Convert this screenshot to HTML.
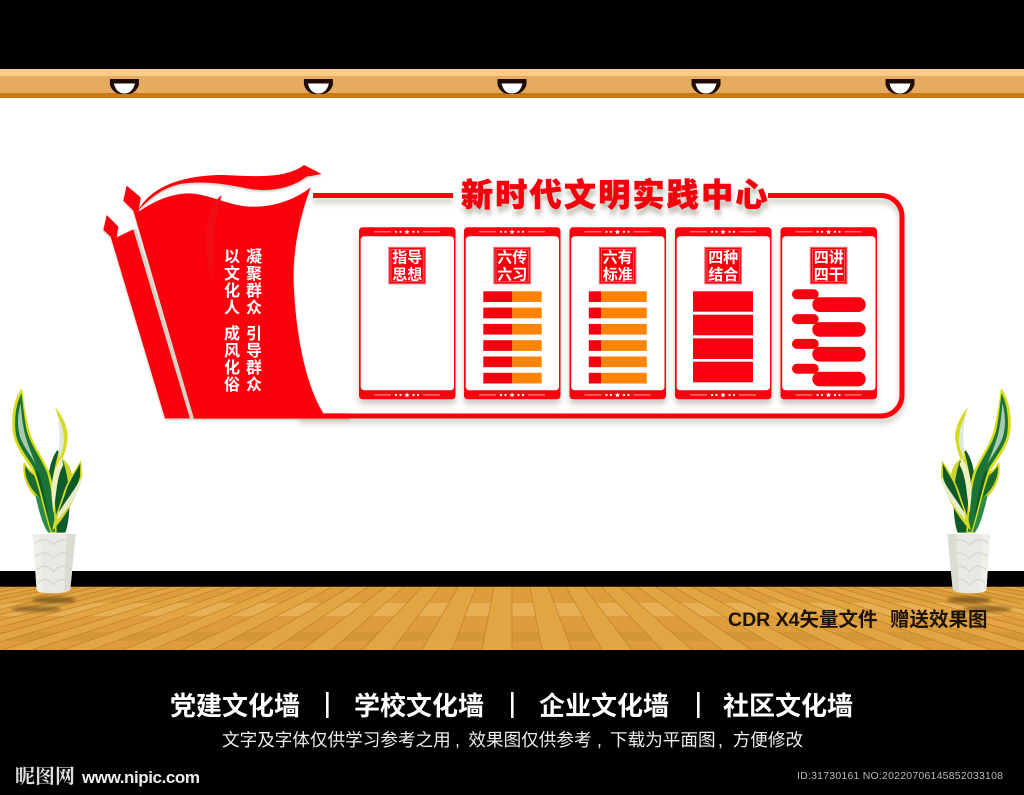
<!DOCTYPE html>
<html lang="zh"><head><meta charset="utf-8"><title>新时代文明实践中心</title>
<style>
html,body{margin:0;padding:0;background:#000;width:1024px;height:795px;overflow:hidden}
svg{display:block}
text{font-family:"Liberation Sans","Noto Sans CJK SC",sans-serif}
</style></head><body>
<svg xmlns="http://www.w3.org/2000/svg" width="1024" height="795" viewBox="0 0 1024 795">
<defs>
<filter id="sh" x="-10%" y="-10%" width="120%" height="125%"><feDropShadow dx="0" dy="5" stdDeviation="3" flood-color="#5a5030" flood-opacity=".3"/></filter>
<filter id="sh2" x="-10%" y="-30%" width="120%" height="170%"><feDropShadow dx="1" dy="6" stdDeviation="2.5" flood-color="#5a5030" flood-opacity=".35"/></filter>
<filter id="bl" x="-30%" y="-80%" width="160%" height="260%"><feGaussianBlur stdDeviation="1.6"/></filter>
<clipPath id="floor"><rect x="0" y="587" width="1024" height="63"/></clipPath>
<clipPath id="ev"><path d="M8 587L26 587L-298 650L-328 650ZM44 587L62 587L-238 650L-268 650ZM80 587L98 587L-178 650L-208 650ZM116 587L134 587L-118 650L-148 650ZM152 587L170 587L-58 650L-88 650ZM188 587L206 587L2 650L-28 650ZM224 587L242 587L62 650L32 650ZM260 587L278 587L122 650L92 650ZM296 587L314 587L182 650L152 650ZM332 587L350 587L242 650L212 650ZM368 587L386 587L302 650L272 650ZM404 587L422 587L362 650L332 650ZM440 587L458 587L422 650L392 650ZM476 587L494 587L482 650L452 650ZM512 587L530 587L542 650L512 650ZM548 587L566 587L602 650L572 650ZM584 587L602 587L662 650L632 650ZM620 587L638 587L722 650L692 650ZM656 587L674 587L782 650L752 650ZM692 587L710 587L842 650L812 650ZM728 587L746 587L902 650L872 650ZM764 587L782 587L962 650L932 650ZM800 587L818 587L1022 650L992 650ZM836 587L854 587L1082 650L1052 650ZM872 587L890 587L1142 650L1112 650ZM908 587L926 587L1202 650L1172 650ZM944 587L962 587L1262 650L1232 650ZM980 587L998 587L1322 650L1292 650ZM1016 587L1034 587L1382 650L1352 650Z"/></clipPath>
<g id="lamp"><path d="M-14.5 79H14.5V85Q11 94 3 94H-3Q-11 94-14.5 85Z" fill="#1e0c04"/><path d="M-10.5 83.5H10.5Q8 93.5 0 93.5Q-8 93.5-10.5 83.5Z" fill="#fff"/></g>
<g id="deco"><rect x="15" y="-.5" width="17" height="1" fill="#f7a0a0"/><rect x="64" y="-.5" width="17" height="1" fill="#f7a0a0"/><g fill="#fff"><circle cx="37" r="1.1"/><circle cx="41.5" r="1.1"/><circle cx="54.5" r="1.1"/><circle cx="59" r="1.1"/><polygon points="48,-2.6 48.8,-.8 50.6,-.7 49.2,.5 49.6,2.3 48,1.3 46.4,2.3 46.8,.5 45.4,-.7 47.2,-.8"/></g></g>
<g id="card"><rect width="96.5" height="172" rx="3.5" fill="#fb0010"/><rect x="1.7" y="9" width="93.3" height="154" rx="3.5" fill="#fff"/><use href="#deco" y="4.5"/><use href="#deco" y="167.7"/><rect x="29.3" y="19.5" width="37.6" height="37.5" fill="#f0606a"/><rect x="30.5" y="20.7" width="35.2" height="35.1" fill="#f40010"/><rect x="32" y="22.2" width="32.2" height="32.1" fill="none" stroke="#f8a0a5" stroke-width=".5"/></g>
<g id="plant">
<ellipse cx="54" cy="600" rx="22" ry="3.5" fill="#6b4c12" opacity=".7" filter="url(#bl)"/>
<ellipse cx="36" cy="609" rx="25" ry="3" fill="#6b4c12" opacity=".65" filter="url(#bl)"/>
<g transform="scale(.3333) translate(0 1140)">
<path d="M72 245C62 290 85 338 125 368L145 300C115 290 85 270 72 245Z" fill="#d8d41e"/>
<path d="M76 258C72 290 90 328 125 358L140 305C112 295 88 280 76 258Z" fill="#1a6a2c"/>
<path d="M190 238C218 262 222 295 212 330L180 450L150 330Z" fill="#c9d52a"/>
<path d="M172 210C150 240 135 300 150 380L160 458H196C218 400 208 280 185 235Z" fill="#0f5c28"/>
<path d="M106 345C118 400 130 440 145 458H170L150 370Z" fill="#2c8a4a"/>
<path d="M66 25C44 50 30 110 40 165C48 205 78 240 96 270C118 320 132 400 152 458H170C168 380 160 310 148 275C125 225 100 195 88 150C78 110 70 60 66 25Z" fill="#d8dc18"/>
<path d="M65 40C50 65 40 115 48 165C55 200 85 235 102 265C122 320 136 395 155 455H165C163 380 152 310 140 275C118 225 92 195 80 150C72 110 68 70 65 40Z" fill="#1b7436"/>
<path d="M62 70C54 100 50 130 60 170C70 200 92 225 108 255C92 215 78 180 72 150C66 120 64 95 62 70Z" fill="#a9c9b0"/>
<path d="M105 270C118 310 130 360 145 410C138 360 128 310 115 275Z" fill="#0e5a26"/>
<path d="M165 82C190 110 208 150 202 185C198 215 186 240 176 270L155 345C155 290 170 240 178 205C184 165 178 115 165 82Z" fill="#d7d820"/>
<path d="M170 100C186 130 196 165 190 200L178 240C176 200 184 150 170 100Z" fill="#dfe8e0"/>
<path d="M185 235C165 255 152 300 155 350L160 400C170 340 170 290 190 255Z" fill="#eef0c0"/>
<path d="M243 240C225 270 205 295 190 340C175 390 160 420 157 452C185 425 232 355 247 290Z" fill="#d4d828"/>
<path d="M241 250C226 280 208 300 196 340C186 370 180 385 176 395C205 365 232 325 240 290Z" fill="#0e5a26"/>
<path d="M244 292C225 330 195 365 175 400L172 420C205 385 235 345 247 295Z" fill="#e6eccc"/>
<path d="M98 462H227L211 628Q205 639 162 640Q116 640 110 630Z" fill="#e9e8e2"/>
<path d="M98 462H120L128 638Q115 637 110 630Z" fill="#f0efea"/>
<path d="M200 462H227L211 628Q207 635 192 638Z" fill="#dddcd4"/>
<path d="M105 490Q135 465 160 495Q190 465 220 490M108 530Q135 505 160 535Q190 505 217 530M111 570Q135 545 160 575Q188 545 214 570M114 610Q135 585 160 615Q186 585 211 610" fill="none" stroke="#d8d7cf" stroke-width="4"/>
</g></g>
</defs>

<rect width="1024" height="795" fill="#000"/>
<rect y="98" width="1024" height="473" fill="#fff"/>
<rect y="69" width="1024" height="7" fill="#fdcb85"/>
<rect y="76" width="1024" height="18" fill="#e5ab60"/>
<rect y="93" width="1024" height="5" fill="#c97a14"/>
<use href="#lamp" x="124.4"/><use href="#lamp" x="318.4"/><use href="#lamp" x="512"/><use href="#lamp" x="706"/><use href="#lamp" x="900"/>

<rect y="587" width="1024" height="63" fill="#e2a541"/>
<g clip-path="url(#floor)">
<g clip-path="url(#ev)">
<rect y="587" width="1024" height="63" fill="#dc9d3a"/>
<rect y="603" width="1024" height="13" fill="#e8b055"/>
<rect y="632" width="1024" height="9" fill="#d59736"/>
</g>
<path d="M8 587L-328 650M26 587L-298 650M44 587L-268 650M62 587L-238 650M80 587L-208 650M98 587L-178 650M116 587L-148 650M134 587L-118 650M152 587L-88 650M170 587L-58 650M188 587L-28 650M206 587L2 650M224 587L32 650M242 587L62 650M260 587L92 650M278 587L122 650M296 587L152 650M314 587L182 650M332 587L212 650M350 587L242 650M368 587L272 650M386 587L302 650M404 587L332 650M422 587L362 650M440 587L392 650M458 587L422 650M476 587L452 650M494 587L482 650M512 587L512 650M530 587L542 650M548 587L572 650M566 587L602 650M584 587L632 650M602 587L662 650M620 587L692 650M638 587L722 650M656 587L752 650M674 587L782 650M692 587L812 650M710 587L842 650M728 587L872 650M746 587L902 650M764 587L932 650M782 587L962 650M800 587L992 650M818 587L1022 650M836 587L1052 650M854 587L1082 650M872 587L1112 650M890 587L1142 650M908 587L1172 650M926 587L1202 650M944 587L1232 650M962 587L1262 650M980 587L1292 650M998 587L1322 650M1016 587L1352 650" stroke="#a56d1e" stroke-width=".8" fill="none" opacity=".55"/>
</g>
<rect y="586" width="1024" height="1" fill="#3a2a10"/>

<g filter="url(#sh)">
<path d="M768 195.5H881a21 21 0 0 1 21 21V395a21 21 0 0 1-21 21H300" fill="none" stroke="#fb0010" stroke-width="5"/>
<path d="M313 195.5H453" stroke="#fb0010" stroke-width="5" fill="none"/>
</g>

<g filter="url(#sh)" transform="translate(90 160) scale(.33333)">
<path d="M50 165L85 200L80 232L130 208L300 775H225L62 230L40 210Z" fill="#fb0010"/>
<path d="M130 208L138 205L313 775H300Z" fill="#d8d3c6"/>
<path d="M110 77L152 112L146 155C190 125 240 100 300 100C370 105 420 140 490 140C560 140 620 115 662 82C625 180 605 290 612 390C620 540 650 680 700 760L780 760V776H312L130 152L100 122Z" fill="#fb0010"/>
<path d="M146 150C180 85 270 45 400 45C500 50 590 55 642 15L695 42L650 50C610 80 550 100 470 85C400 70 330 62 270 72C215 85 180 115 146 150Z" fill="#fb0010"/>
<path d="M395 105C340 150 335 270 370 385C365 280 372 180 395 105Z" fill="#f00a16"/>
</g>

<g font-weight="700" font-size="16" fill="#fff" text-anchor="middle">
<text x="232 232 232 232" y="262 279 296 313">以文化人</text>
<text x="232 232 232 232" y="339 356 373 390">成风化俗</text>
<text x="254 254 254 254" y="262 279 296 313">凝聚群众</text>
<text x="254 254 254 254" y="339 356 373 390">引导群众</text>
</g>

<text x="461" y="206" font-size="32" font-weight="900" fill="#f4000f" stroke="#f4000f" stroke-width=".6" letter-spacing="2.3" filter="url(#sh2)">新时代文明实践中心</text>

<g filter="url(#sh)">
<use href="#card" x="359" y="227.3"/>
<use href="#card" x="464" y="227.3"/>
<use href="#card" x="569.5" y="227.3"/>
<use href="#card" x="675" y="227.3"/>
<use href="#card" x="780.5" y="227.3"/>
</g>

<g font-size="15" font-weight="700" fill="#fff" text-anchor="middle">
<text x="407.2" y="262.5">指导</text><text x="407.2" y="279.5">思想</text>
<text x="512.2" y="262.5">六传</text><text x="512.2" y="279.5">六习</text>
<text x="617.7" y="262.5">六有</text><text x="617.7" y="279.5">标准</text>
<text x="723.2" y="262.5">四种</text><text x="723.2" y="279.5">结合</text>
<text x="828.7" y="262.5">四讲</text><text x="828.7" y="279.5">四干</text>
</g>

<g fill="#f40010">
<rect x="483.3" y="291.3" width="29" height="10.7"/><rect x="483.3" y="307.6" width="29" height="10.7"/><rect x="483.3" y="323.9" width="29" height="10.7"/><rect x="483.3" y="340.2" width="29" height="10.7"/><rect x="483.3" y="356.5" width="29" height="10.7"/><rect x="483.3" y="372.8" width="29" height="10.7"/>
<rect x="588.8" y="291.3" width="12.4" height="10.7"/><rect x="588.8" y="307.6" width="12.4" height="10.7"/><rect x="588.8" y="323.9" width="12.4" height="10.7"/><rect x="588.8" y="340.2" width="12.4" height="10.7"/><rect x="588.8" y="356.5" width="12.4" height="10.7"/><rect x="588.8" y="372.8" width="12.4" height="10.7"/>
</g>
<g fill="#ff8405">
<rect x="512.3" y="291.3" width="29.4" height="10.7"/><rect x="512.3" y="307.6" width="29.4" height="10.7"/><rect x="512.3" y="323.9" width="29.4" height="10.7"/><rect x="512.3" y="340.2" width="29.4" height="10.7"/><rect x="512.3" y="356.5" width="29.4" height="10.7"/><rect x="512.3" y="372.8" width="29.4" height="10.7"/>
<rect x="601.2" y="291.3" width="45.6" height="10.7"/><rect x="601.2" y="307.6" width="45.6" height="10.7"/><rect x="601.2" y="323.9" width="45.6" height="10.7"/><rect x="601.2" y="340.2" width="45.6" height="10.7"/><rect x="601.2" y="356.5" width="45.6" height="10.7"/><rect x="601.2" y="372.8" width="45.6" height="10.7"/>
</g>
<g fill="#fb0010">
<rect x="693" y="291.3" width="60" height="20.4"/><rect x="693" y="314.7" width="60" height="20.6"/><rect x="693" y="338.3" width="60" height="20.7"/><rect x="693" y="361.7" width="60" height="20.6"/>
<rect x="792" y="289.3" width="26.7" height="10" rx="5"/><rect x="812.3" y="297.3" width="53.4" height="14.7" rx="7.3"/>
<rect x="792" y="314.1" width="26.7" height="10" rx="5"/><rect x="812.3" y="322.1" width="53.4" height="14.7" rx="7.3"/>
<rect x="792" y="338.9" width="26.7" height="10" rx="5"/><rect x="812.3" y="346.9" width="53.4" height="14.7" rx="7.3"/>
<rect x="792" y="363.7" width="26.7" height="10" rx="5"/><rect x="812.3" y="371.7" width="53.4" height="14.7" rx="7.3"/>
</g>

<use href="#plant"/>
<use href="#plant" transform="translate(1023 0) scale(-1 1)"/>

<g font-weight="700" font-size="19.5" fill="#1c1206">
<text x="728" y="626">CDR X4矢量文件</text>
<text x="890" y="626">赠送效果图</text>
</g>

<g font-weight="700" font-size="26" fill="#fff">
<text x="170" y="715">党建文化墙</text>
<text x="354" y="715">学校文化墙</text>
<text x="539" y="715">企业文化墙</text>
<text x="723" y="715">社区文化墙</text>
</g>
<g fill="#fff"><rect x="326" y="692" width="2.6" height="26"/><rect x="511" y="692" width="2.6" height="26"/><rect x="697" y="692" width="2.6" height="26"/></g>
<g font-size="17.6" fill="#eee">
<text x="222" y="746">文字及字体仅供学习参考之用</text>
<text x="455" y="746">,</text>
<text x="468.4" y="746">效果图仅供参考</text>
<text x="597" y="746">,</text>
<text x="610" y="746">下载为平面图</text>
<text x="718" y="746">,</text>
<text x="732.7" y="746">方便修改</text>
</g>
<text x="15" y="783" font-size="20" font-weight="700" fill="#ddd" style="font-family:'Liberation Serif','Noto Serif CJK SC',serif">昵图网</text>
<text x="82" y="783" font-size="17" font-weight="700" fill="#eee" textLength="118">www.nipic.com</text>
<text x="797" y="779" font-size="10.5" fill="#bbb" textLength="206">ID:31730161 NO:20220706145852033108</text>
</svg>
</body></html>
